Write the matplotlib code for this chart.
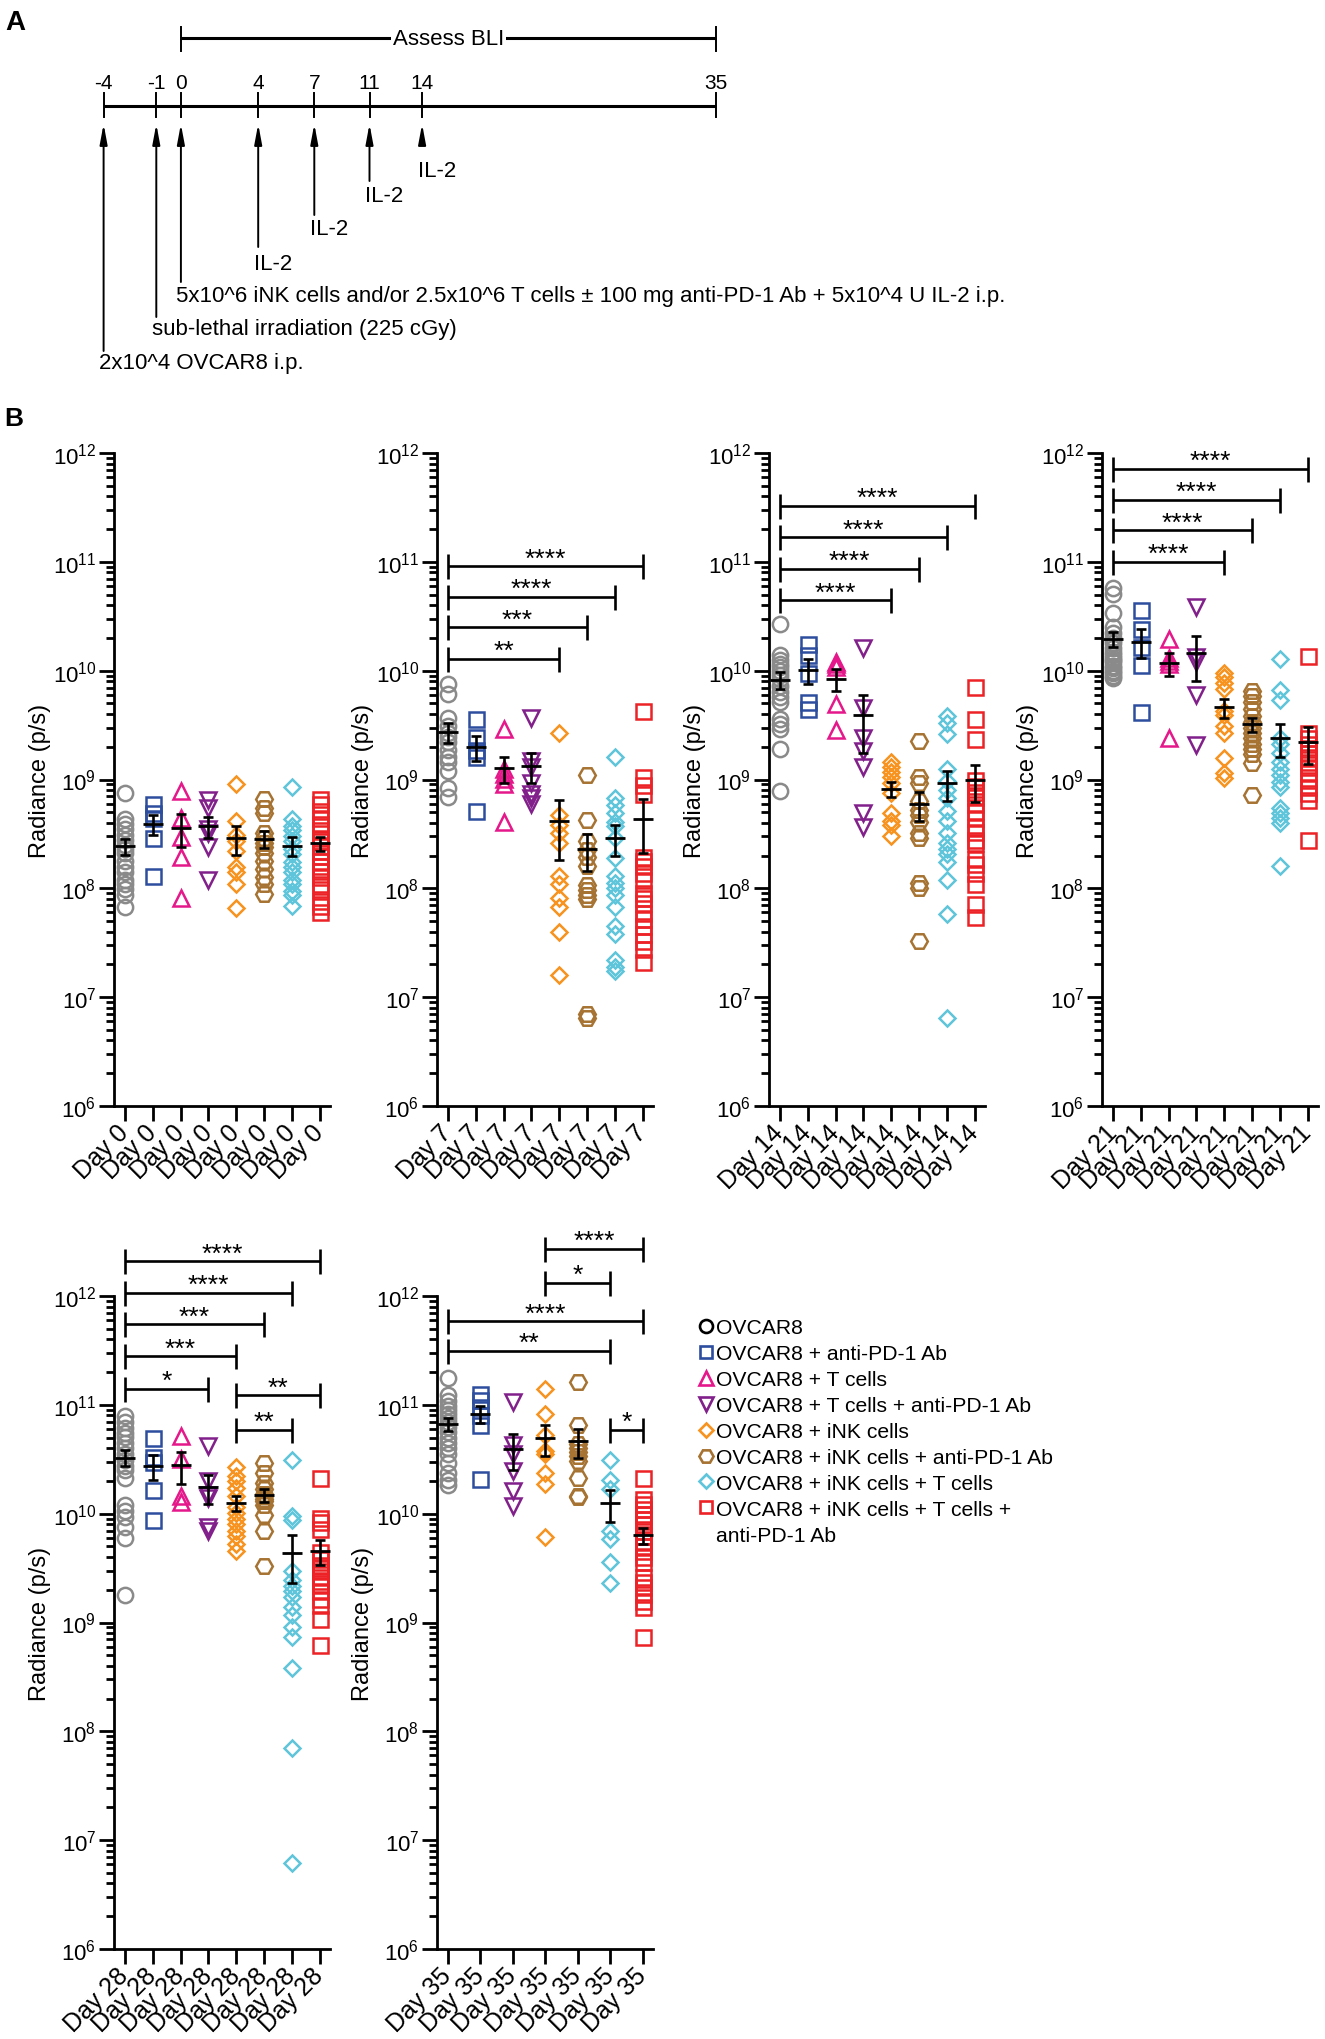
import numpy as np
import matplotlib
matplotlib.use("Agg")
import matplotlib.pyplot as plt
from matplotlib.ticker import FixedLocator, LogLocator, NullFormatter, FixedFormatter

plt.rcParams['font.family'] = ['Liberation Sans', 'DejaVu Sans']
plt.rcParams['mathtext.fontset'] = 'custom'
plt.rcParams['mathtext.rm'] = 'Liberation Sans'

# ---------------- data ----------------
group_names = ["OVCAR8", "OVCAR8 + anti-PD-1 Ab", "OVCAR8 + T cells",
               "OVCAR8 + T cells + anti-PD-1 Ab", "OVCAR8 + iNK cells",
               "OVCAR8 + iNK cells + anti-PD-1 Ab", "OVCAR8 + iNK cells + T cells",
               "OVCAR8 + iNK cells + T cells +\nanti-PD-1 Ab"]

day0 = [
    [7.5e8, 4.3e8, 3.9e8, 3.5e8, 3.1e8, 2.8e8, 2.5e8, 2.3e8, 2.1e8, 1.8e8, 1.56e8, 1.4e8, 1.2e8, 1.1e8, 9.9e7, 8.6e7, 6.7e7],
    [5.9e8, 4.95e8, 4.45e8, 2.9e8, 1.3e8],
    [7.8e8, 4.4e8, 2.97e8, 1.95e8, 8.1e7],
    [6.5e8, 5.5e8, 3.5e8, 3.2e8, 2.4e8, 1.2e8],
    [9.1e8, 4.2e8, 3.1e8, 2.7e8, 2.2e8, 1.56e8, 1.4e8, 1.1e8, 6.6e7],
    [6.6e8, 5.5e8, 4.95e8, 3.25e8, 2.9e8, 2.6e8, 2.4e8, 2.1e8, 1.8e8, 1.5e8, 1.26e8, 1.1e8, 8.9e7],
    [8.5e8, 4.3e8, 3.7e8, 3.4e8, 3.0e8, 2.7e8, 2.3e8, 2.06e8, 1.73e8, 1.56e8, 1.4e8, 1.2e8, 1.1e8, 9.5e7, 8.6e7, 6.9e7],
    [6.6e8, 5.9e8, 5.1e8, 4.45e8, 3.9e8, 3.4e8, 2.9e8, 2.7e8, 2.45e8, 2.2e8, 2.0e8, 1.8e8, 1.6e8, 1.45e8, 1.26e8, 1.1e8, 9.9e7, 7.7e7, 6.9e7, 6.0e7],
]
day7 = [
    [7.55e9, 6.1e9, 3.7e9, 3.1e9, 2.7e9, 2.45e9, 2.2e9, 1.85e9, 1.6e9, 1.45e9, 1.2e9, 8.3e8, 6.9e8],
    [3.6e9, 2.45e9, 1.85e9, 1.6e9, 5.1e8],
    [2.9e9, 1.26e9, 1.12e9, 1.02e9, 9.1e8, 4.1e8],
    [3.7e9, 1.48e9, 1.3e9, 9.2e8, 7.4e8, 6.7e8, 6.0e8],
    [2.7e9, 4.7e8, 3.8e8, 3.2e8, 2.6e8, 1.3e8, 1.1e8, 8.2e7, 6.7e7, 4.0e7, 1.6e7],
    [1.1e9, 4.25e8, 2.7e8, 2.26e8, 1.96e8, 1.59e8, 1.08e8, 9.7e7, 8.75e7, 7.9e7, 7.0e6, 6.5e6],
    [1.61e9, 6.7e8, 5.8e8, 4.9e8, 4.1e8, 3.7e8, 2.9e8, 1.9e8, 1.29e8, 1.12e8, 1.0e8, 8.7e7, 6.8e7, 4.5e7, 3.8e7, 2.2e7, 1.9e7, 1.74e7],
    [4.3e9, 1.06e9, 8.9e8, 7.4e8, 1.96e8, 1.77e8, 1.59e8, 1.38e8, 1.2e8, 9.1e7, 8.2e7, 7.3e7, 5.9e7, 5.2e7, 4.5e7, 3.8e7, 3.3e7, 2.8e7, 2.1e7],
]
day14 = [
    [2.7e10, 1.4e10, 1.25e10, 1.16e10, 1.08e10, 1.0e10, 9.1e9, 8.3e9, 7.3e9, 6.4e9, 5.7e9, 5.1e9, 3.6e9, 3.24e9, 2.9e9, 1.9e9, 7.9e8],
    [1.76e10, 1.4e10, 9.6e9, 5.15e9, 4.4e9],
    [1.19e10, 1.15e10, 1.08e10, 4.9e9, 2.83e9],
    [1.63e10, 4.5e9, 2.4e9, 1.84e9, 1.31e9, 4.9e8, 3.65e8],
    [1.44e9, 1.31e9, 1.17e9, 1.05e9, 9.3e8, 7.5e8, 4.9e8, 4.2e8, 3.8e8, 3.0e8],
    [2.27e9, 1.05e9, 9.3e8, 6.4e8, 5.3e8, 4.7e8, 4.1e8, 3.2e8, 2.9e8, 1.11e8, 1.0e8, 3.3e7],
    [3.8e9, 3.3e9, 2.6e9, 1.25e9, 9.6e8, 8.0e8, 6.8e8, 5.1e8, 4.2e8, 3.2e8, 2.6e8, 2.3e8, 2.05e8, 1.75e8, 1.2e8, 5.8e7, 6.4e6],
    [7.1e9, 3.6e9, 2.36e9, 1.0e9, 8.7e8, 7.7e8, 6.9e8, 6.0e8, 5.1e8, 4.4e8, 3.65e8, 3.3e8, 2.8e8, 2.6e8, 1.85e8, 1.66e8, 1.37e8, 1.09e8, 7.2e7, 5.4e7],
]
day21 = [
    [5.8e10, 5.1e10, 3.4e10, 2.5e10, 2.2e10, 2.0e10, 1.9e10, 1.8e10, 1.6e10, 1.5e10, 1.4e10, 1.3e10, 1.25e10, 1.2e10, 1.1e10, 1.05e10, 1.0e10, 9.5e9, 9.0e9, 8.5e9],
    [3.6e10, 2.44e10, 1.66e10, 1.13e10, 4.2e9],
    [1.94e10, 1.3e10, 1.23e10, 1.15e10, 2.4e9],
    [3.86e10, 1.34e10, 1.21e10, 6.0e9, 2.08e9],
    [9.6e9, 8.7e9, 7.7e9, 6.8e9, 4.3e9, 3.9e9, 3.1e9, 2.7e9, 1.57e9, 1.14e9, 1.03e9],
    [6.5e9, 5.8e9, 5.1e9, 4.4e9, 3.8e9, 3.4e9, 3.0e9, 2.7e9, 2.4e9, 2.1e9, 1.9e9, 1.7e9, 1.41e9, 7.2e8],
    [1.27e10, 6.7e9, 5.4e9, 2.4e9, 2.1e9, 1.75e9, 1.45e9, 1.25e9, 1.1e9, 9.5e8, 8.6e8, 5.5e8, 4.9e8, 4.4e8, 4.0e8, 1.6e8],
    [1.36e10, 2.7e9, 2.4e9, 2.1e9, 1.9e9, 1.75e9, 1.6e9, 1.45e9, 1.3e9, 1.14e9, 9.9e8, 8.6e8, 7.5e8, 6.5e8, 2.8e8],
]
day28 = [
    [7.9e10, 7.0e10, 6.1e10, 5.5e10, 5.1e10, 4.5e10, 4.0e10, 3.5e10, 3.1e10, 2.75e10, 2.5e10, 2.13e10, 1.2e10, 1.05e10, 9.3e9, 7.6e9, 6.0e9, 1.8e9],
    [5.0e10, 3.3e10, 3.0e10, 1.64e10, 8.7e9],
    [5.2e10, 3.16e10, 1.46e10, 1.27e10],
    [4.2e10, 2.0e10, 1.5e10, 1.4e10, 7.5e9, 7.0e9],
    [2.7e10, 2.24e10, 2.0e10, 1.73e10, 1.46e10, 1.15e10, 1.01e10, 9.0e9, 8.0e9, 7.0e9, 6.2e9, 5.3e9, 4.5e9],
    [2.95e10, 2.38e10, 1.92e10, 1.69e10, 1.51e10, 1.45e10, 1.36e10, 1.3e10, 1.2e10, 9.7e9, 6.9e9, 3.3e9],
    [3.1e10, 9.5e9, 8.7e9, 3.0e9, 2.44e9, 2.15e9, 1.94e9, 1.73e9, 1.4e9, 1.18e9, 9.1e8, 7.3e8, 3.85e8, 7.1e7, 6.2e6],
    [2.13e10, 9.2e9, 8.3e9, 7.3e9, 4.4e9, 3.8e9, 3.35e9, 2.95e9, 2.6e9, 2.2e9, 1.95e9, 1.65e9, 1.45e9, 1.08e9, 6.2e8, 3.2e9, 2.4e9],
]
day35 = [
    [1.75e11, 1.23e11, 1.08e11, 9.8e10, 9.0e10, 8.2e10, 7.5e10, 6.9e10, 6.2e10, 5.6e10, 5.0e10, 4.5e10, 4.0e10, 3.5e10, 2.9e10, 2.37e10, 2.06e10, 1.85e10],
    [1.25e11, 1.1e11, 9.5e10, 8.0e10, 6.5e10, 2.1e10],
    [1.07e11, 4.3e10, 3.54e10, 2.45e10, 1.61e10, 1.18e10],
    [1.4e11, 8.2e10, 5.25e10, 3.74e10, 3.5e10, 2.37e10, 1.88e10, 6.1e9],
    [1.61e11, 6.56e10, 4.37e10, 4.0e10, 3.7e10, 3.37e10, 3.03e10, 2.13e10, 1.45e10, 1.42e10],
    [3.14e10, 2.02e10, 1.67e10, 6.9e9, 5.8e9, 3.57e9, 2.29e9],
    [2.13e10, 1.35e10, 1.22e10, 1.1e10, 9.9e9, 8.9e9, 8.0e9, 6.9e9, 6.25e9, 5.6e9, 5.06e9, 4.56e9, 3.96e9, 3.56e9, 2.6e9, 2.34e9, 2.1e9, 1.83e9, 1.59e9, 1.38e9, 7.3e8],
]
groups_all = [0, 1, 2, 3, 4, 5, 6, 7]
groups_day35 = [0, 1, 3, 4, 5, 6, 7]
day_names = ["Day 0", "Day 7", "Day 14", "Day 21", "Day 28", "Day 35"]

# significance comparisons (i, j, label) by position within each panel
sig7 = [(0, 4, "**"), (0, 5, "***"), (0, 6, "****"), (0, 7, "****")]
sig14 = [(0, 4, "****"), (0, 5, "****"), (0, 6, "****"), (0, 7, "****")]
sig21 = [(0, 4, "****"), (0, 5, "****"), (0, 6, "****"), (0, 7, "****")]
sig28 = [(0, 3, "*"), (0, 4, "***"), (0, 5, "***"), (0, 6, "****"), (0, 7, "****"),
         (4, 6, "**"), (4, 7, "**")]
sig35 = [(5, 6, "*"), (0, 5, "**"), (0, 6, "****"), (3, 5, "*"), (3, 6, "****")]

# timeline (panel A)
tl_days = [-4, -1, 0, 4, 7, 11, 14, 35]
tl_events = ["2x10^4 OVCAR8 i.p.", "sub-lethal irradiation (225 cGy)",
             "5x10^6 iNK cells and/or 2.5x10^6 T cells \u00b1 100 mg anti-PD-1 Ab + 5x10^4 U IL-2 i.p.",
             "IL-2", "IL-2", "IL-2", "IL-2"]

# ---------------- styles / layout ----------------
colors = ['#8a8a8a', '#2d4e9e', '#e5188b', '#82208b', '#f7931e', '#a67332', '#5ec5da', '#ec2227']
markers = ['o', 's', '^', 'v', 'D', 'H', 'D', 's']
msizes = [11.0, 10.8, 11.5, 11.5, 8.0, 12.0, 8.0, 10.8]
MEW = 1.8

W, H = 1325, 2040
fig = plt.figure(figsize=(W / 100, H / 100), dpi=100)


def add_px_axes(x, y, w, h):
    return fig.add_axes([x / W, 1 - (y + h) / H, w / W, h / H])


# overlay axes in pixel coordinates (panel A, legend)
ov = add_px_axes(0, 0, W, H)
ov.set_xlim(0, W)
ov.set_ylim(H, 0)
ov.axis('off')

ax_w, ax_h = 216, 653
first_off, last_off = 11, 10.4


def draw_panel(x0, y0, values, gidx, dname, sigs, levels):
    ax = add_px_axes(x0, y0, ax_w, ax_h)
    n = len(values)
    step = (ax_w - first_off - last_off) / (n - 1)
    ax.set_yscale('log')
    ax.set_xlim(-first_off / step, n - 1 + last_off / step)
    ax.set_ylim(1e6, 1e12)
    for k, (vals, g) in enumerate(zip(values, gidx)):
        v = np.asarray(vals, dtype=float)
        ax.plot(np.full(len(v), k), v, ls='none', marker=markers[g], ms=msizes[g],
                mfc='none', mec=colors[g], mew=MEW, zorder=2)
        m = v.mean()
        se = v.std(ddof=1) / np.sqrt(len(v))
        ax.errorbar([k], [m], yerr=[[se], [se]], fmt='none', ecolor='k', elinewidth=1.9,
                    capsize=3.6, capthick=1.9, zorder=4)
        ax.plot([k], [m], ls='none', marker='_', ms=14, mew=2.0, color='k', zorder=4)
    for (i, j, lab), lev in zip(sigs, levels):
        yv = 10 ** lev
        ax.plot([i, j], [yv, yv], color='k', lw=1.9, clip_on=False, solid_capstyle='butt', zorder=5)
        ax.plot([i, j], [yv, yv], ls='none', marker='|', ms=18, mew=1.9, color='k',
                clip_on=False, zorder=5)
        ax.annotate(lab, xy=((i + j) / 2, yv), xytext=(0, 0.5), textcoords='offset points',
                    ha='center', va='baseline', fontsize=19, annotation_clip=False)
    for s in ['top', 'right']:
        ax.spines[s].set_visible(False)
    for s in ['left', 'bottom']:
        ax.spines[s].set_linewidth(2.0)
    ax.yaxis.set_major_locator(FixedLocator([10.0 ** k for k in range(6, 13)]))
    ax.yaxis.set_major_formatter(FixedFormatter([r'$\mathregular{10^{%d}}$' % k for k in range(6, 13)]))
    ax.yaxis.set_minor_locator(LogLocator(base=10, subs=np.arange(2, 10), numticks=100))
    ax.yaxis.set_minor_formatter(NullFormatter())
    ax.set_xticks(range(n))
    ax.set_xticklabels([dname] * n, rotation=45, ha='right', va='center', rotation_mode='anchor')
    ax.tick_params(axis='y', which='major', length=10.8, width=2, labelsize=16, pad=2)
    ax.tick_params(axis='y', which='minor', length=5.8, width=2)
    ax.tick_params(axis='x', which='major', length=11, width=2, labelsize=18, pad=5)
    ax.set_ylabel('Radiance (p/s)', fontsize=17)
    ax.yaxis.set_label_coords(-0.29, 0.5)
    ax.patch.set_alpha(0)
    return ax


panel_left = [114, 437, 769, 1102]
row_top = [454, 1297]
draw_panel(panel_left[0], row_top[0], day0, groups_all, day_names[0], [], [])
draw_panel(panel_left[1], row_top[0], day7, groups_all, day_names[1], sig7, [10.11, 10.40, 10.68, 10.96])
draw_panel(panel_left[2], row_top[0], day14, groups_all, day_names[2], sig14, [10.647, 10.938, 11.225, 11.513])
draw_panel(panel_left[3], row_top[0], day21, groups_all, day_names[3], sig21, [11.0, 11.29, 11.572, 11.856])
draw_panel(panel_left[0], row_top[1], day28, groups_all, day_names[4], sig28,
           [11.149, 11.448, 11.739, 12.03, 12.317, 10.769, 11.086])
draw_panel(panel_left[1], row_top[1], day35, groups_day35, day_names[5], sig35,
           [10.771, 11.497, 11.768, 12.122, 12.433])

# ---------------- legend ----------------
lx_m, lx_t, ly0, ldy = 706, 716, 1327, 25.9
for g in range(8):
    yy = ly0 + g * ldy
    ec = 'k' if g == 0 else colors[g]
    ov.plot([lx_m], [yy], ls='none', marker=markers[g], ms=msizes[g] * 0.85, mfc='none',
            mec=ec, mew=1.9)
    for li, line in enumerate(group_names[g].split('\n')):
        ov.text(lx_t, yy + li * ldy + 7.5, line, ha='left', va='baseline', fontsize=15.2)

# ---------------- panel labels ----------------
fig.text(5 / W, 1 - 30 / H, 'A', fontsize=20, fontweight='bold', ha='left', va='baseline')
fig.text(4 / W, 1 - 426 / H, 'B', fontsize=19, fontweight='bold', ha='left', va='baseline')

# ---------------- panel A ----------------
tl_x = [103.6, 156.3, 180.9, 258.2, 314.3, 369.5, 422.1, 716.0]
tl_y = 106.7
ov.plot([tl_x[0], tl_x[-1]], [tl_y, tl_y], color='k', lw=2.2, solid_capstyle='butt')
for xx, d in zip(tl_x, tl_days):
    ov.plot([xx, xx], [94, 118], color='k', lw=1.4)
    ov.text(xx, 89, str(d), ha='center', va='baseline', fontsize=15)

# Assess BLI bar (day 0 -> day 35)
bx0, bx1, by = tl_x[2], tl_x[-1], 39.3
ov.plot([bx0, bx1], [by, by], color='k', lw=2.2, solid_capstyle='butt')
ov.plot([bx0, bx0], [28, 52], color='k', lw=1.4)
ov.plot([bx1, bx1], [28, 52], color='k', lw=1.4)
ov.text((bx0 + bx1) / 2, by, 'Assess BLI', ha='center', va='center', fontsize=16,
        bbox=dict(facecolor='white', edgecolor='none', pad=1.5))

tails = [352, 318, 283, 248, 216, 182, 146]
baselines = [369, 335, 302, 270, 235, 202, 177]
for xx, tail, bl, txt in zip(tl_x[:7], tails, baselines, tl_events):
    ov.annotate('', xy=(xx, 125), xytext=(xx, tail),
                arrowprops=dict(arrowstyle='-|>,head_length=0.75,head_width=0.14', lw=1.4,
                                color='k', mutation_scale=16, shrinkA=0, shrinkB=0))
    ov.text(xx - 4.5, bl, txt, ha='left', va='baseline', fontsize=16)

fig.savefig('out.png', dpi=100)
